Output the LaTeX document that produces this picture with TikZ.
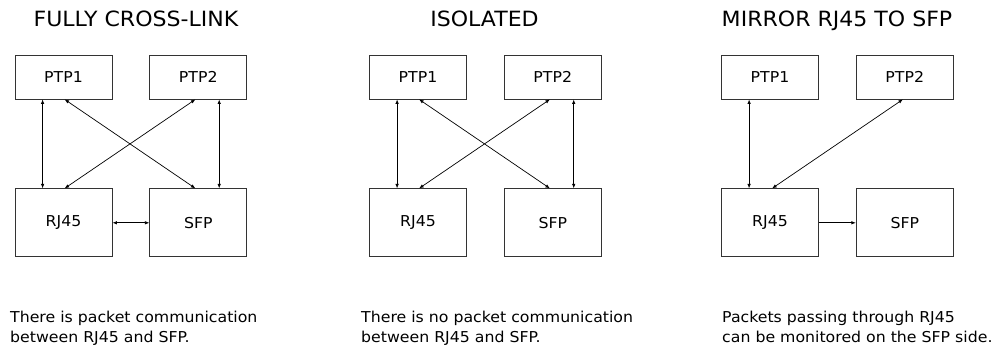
\documentclass[tikz,border=0pt]{standalone}
\usepackage{fontspec}
\setmainfont{DejaVu Sans}[FakeStretch=1.05]
\usetikzlibrary{arrows.meta,positioning}

\begin{document}
\begin{tikzpicture}[x=1pt,y=-1pt,node distance=89pt and 37pt,>={Latex[length=4.5pt,width=3.5pt]},
  box/.style={draw=black!80,line width=0.8pt,minimum width=97pt,inner sep=0pt,font=\fontsize{15}{18}\selectfont},
  topbox/.style={box,minimum height=44pt},
  lowbox/.style={box,minimum height=68pt},
  heading/.style={anchor=base,inner sep=0pt,font=\fontsize{21}{24}\selectfont},
  note/.style={anchor=north west,inner sep=0pt,align=left,font=\fontsize{15}{20}\selectfont},
  link/.style={line width=0.7pt}]
\useasboundingbox (0,0) rectangle (995,347);

% fully cross-link
\node[heading] (t1) at (136,27) {FULLY CROSS-LINK};
\node[topbox] (a1) at (63.5,77) {PTP1};
\node[topbox,right=of a1] (b1) {PTP2};
\node[lowbox,below=of a1] (c1) {RJ45};
\node[lowbox,below=of b1] (d1) {SFP};
\draw[link,<->] ([xshift=28pt]a1.south west) -- ([xshift=28pt]c1.north west);
\draw[link,<->] ([xshift=-28pt]b1.south east) -- ([xshift=-28pt]d1.north east);
\draw[link,<->] ([xshift=50pt]a1.south west) -- ([xshift=46pt]d1.north west);
\draw[link,<->] ([xshift=46pt]b1.south west) -- ([xshift=50pt]c1.north west);
\draw[link,<->] (c1) -- (d1);
\node[note] (n1) at (10,311) {There is packet communication\\between RJ45 and SFP.};

% isolated
\node[heading] (t2) at (484.5,27) {ISOLATED};
\node[topbox] (a2) at (418,77) {PTP1};
\node[topbox,right=of a2] (b2) {PTP2};
\node[lowbox,below=of a2] (c2) {RJ45};
\node[lowbox,below=of b2] (d2) {SFP};
\draw[link,<->] ([xshift=28pt]a2.south west) -- ([xshift=28pt]c2.north west);
\draw[link,<->] ([xshift=-28pt]b2.south east) -- ([xshift=-28pt]d2.north east);
\draw[link,<->] ([xshift=50pt]a2.south west) -- ([xshift=46pt]d2.north west);
\draw[link,<->] ([xshift=46pt]b2.south west) -- ([xshift=50pt]c2.north west);
\node[note] (n2) at (361,311) {There is no packet communication\\between RJ45 and SFP.};

% mirror
\node[heading] (t3) at (837,27) {MIRROR RJ45 TO SFP};
\node[topbox] (a3) at (770,77) {PTP1};
\node[topbox,right=of a3] (b3) {PTP2};
\node[lowbox,below=of a3] (c3) {RJ45};
\node[lowbox,below=of b3] (d3) {SFP};
\draw[link,<->] ([xshift=28pt]a3.south west) -- ([xshift=28pt]c3.north west);
\draw[link,<->] ([xshift=47pt]b3.south west) -- ([xshift=51pt]c3.north west);
\draw[link,->] (c3) -- (d3);
\node[note] (n3) at (722,311) {Packets passing through RJ45\\can be monitored on the SFP side.};
\end{tikzpicture}
\end{document}
